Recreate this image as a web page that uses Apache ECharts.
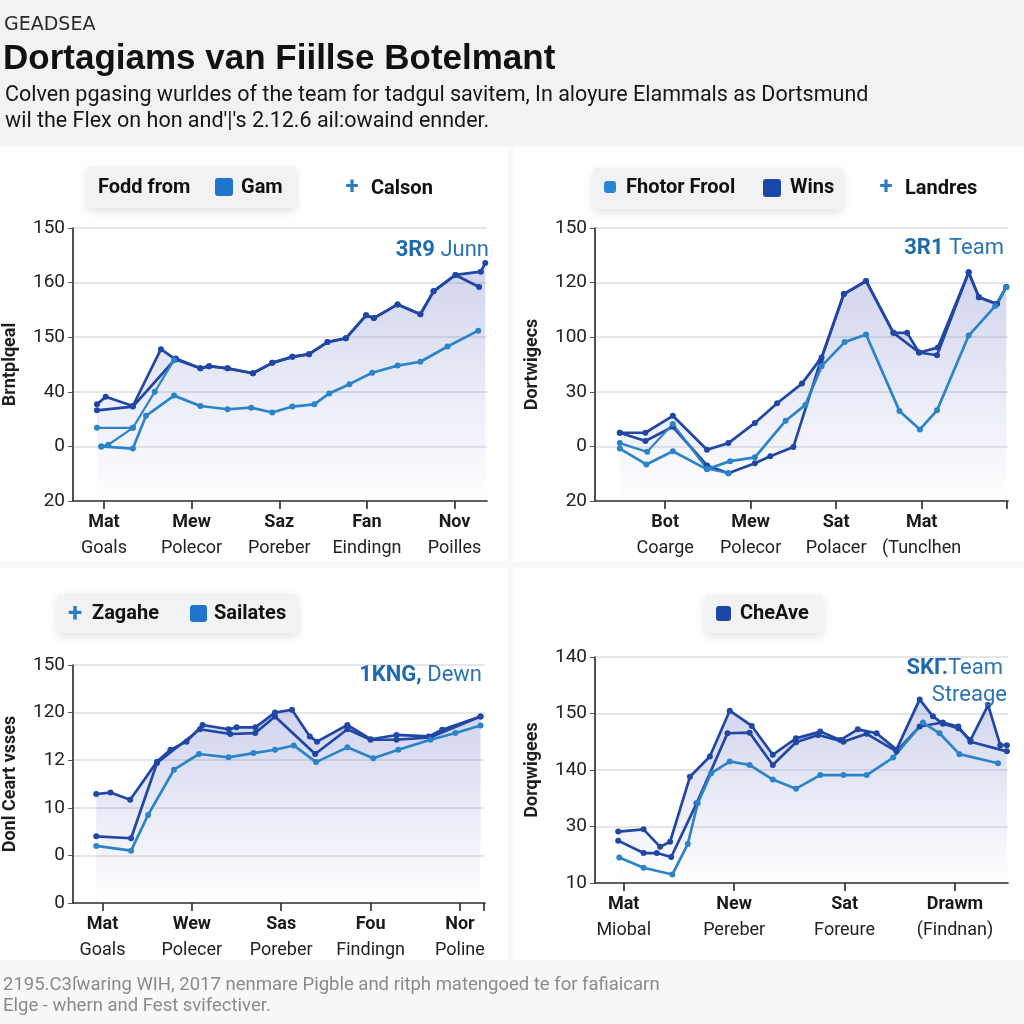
<!DOCTYPE html>
<html><head><meta charset="utf-8">
<script src="https://cdn.jsdelivr.net/npm/echarts@6/dist/echarts.min.js"></script>
<style>html,body{margin:0;padding:0;background:#fafafa}#c{width:1024px;height:1024px}</style>
</head><body><div id="c"></div><script>
// ---------- tick labels ----------
const yTicks1 = ['20','0','40','150','160','150'];
const yTicks2 = ['20','0','30','100','120','150'];
const yTicks3 = ['0','0','10','12','120','150'];
const yTicks4 = ['10','30','140','150','140'];

const xTickPos1 = [1,2,3,4,5];
const xTop1 = ['Mat','Mew','Saz','Fan','Nov'];
const xSub1 = ['Goals','Polecor','Poreber','Eindingn','Poilles'];
const xTickPos2 = [1,2,3,4,5];
const xTop2 = ['Bot','Mew','Sat','Mat',''];
const xSub2 = ['Coarge','Polecor','Polacer','(Tunclhen',''];
const xTickPos3 = [1,2,3,4,5,5.27];
const xTop3 = ['Mat','Wew','Sas','Fou','Nor',''];
const xSub3 = ['Goals','Polecer','Poreber','Findingn','Poline',''];
const xTickPos4 = [1,2,3,4];
const xTop4 = ['Mat','New','Sat','Drawm'];
const xSub4 = ['Miobal','Pereber','Foreure','(Findnan)'];

// ---------- series values (x = position along time axis, y = level on axis) ----------
// Panel 1
const p1GamX = [0.92,1.02,1.33,1.65,1.82,2.10,2.20,2.41,2.70,2.92,3.15,3.34,3.55,3.76,3.99,4.08,4.35,4.61,4.76,5.01,5.30,5.35];
const p1GamY = [1.77,1.91,1.74,2.78,2.59,2.43,2.47,2.43,2.34,2.53,2.64,2.69,2.91,2.98,3.40,3.35,3.60,3.42,3.84,4.14,4.20,4.36];
const p1FoddX = [0.92,1.33,1.82,2.10,2.20,2.41,2.70,2.92,3.15,3.34,3.55,3.76,3.99,4.08,4.35,4.61,4.76,5.01,5.28];
const p1FoddY = [1.66,1.73,2.61,2.43,2.47,2.43,2.34,2.53,2.64,2.69,2.91,2.98,3.40,3.35,3.60,3.42,3.84,4.14,3.92];
const p1CalsonX = [0.97,1.33,1.48,1.80,2.10,2.41,2.68,2.92,3.15,3.40,3.57,3.80,4.06,4.35,4.61,4.92,5.27];
const p1CalsonY = [1.00,0.96,1.56,1.93,1.74,1.68,1.71,1.62,1.73,1.77,1.97,2.14,2.35,2.48,2.55,2.83,3.12];
const p1ExtraX = [0.92,1.33,1.58,1.80];
const p1ExtraY = [1.34,1.34,2.00,2.58];
const p1Extra2X = [0.97,1.05,1.33];
const p1Extra2Y = [1.00,1.03,1.34];
// Panel 2
const p2WinsX = [0.47,0.77,1.09,1.49,1.74,2.05,2.31,2.60,2.83,3.09,3.35,3.67,3.83,3.97,4.19,4.55,4.67,4.88,4.99];
const p2WinsY = [1.25,1.25,1.56,0.94,1.06,1.43,1.79,2.15,2.63,3.79,4.03,3.08,3.08,2.72,2.81,4.19,3.73,3.61,3.92];
const p2LandX = [0.47,0.77,1.09,1.49,1.74,2.05,2.23,2.50,2.82,3.09,3.35,3.67,3.97,4.18,4.55,4.67,4.88,4.99];
const p2LandY = [1.25,1.10,1.36,0.65,0.51,0.69,0.82,0.99,2.57,3.79,4.03,3.08,2.72,2.67,4.19,3.73,3.61,3.92];
const p2FhotX = [0.47,0.78,1.09,1.49,1.76,2.05,2.41,2.64,2.83,3.10,3.35,3.74,3.98,4.18,4.55,4.86,4.99];
const p2FhotY = [0.96,0.67,0.91,0.58,0.73,0.80,1.47,1.76,2.47,2.91,3.05,1.65,1.31,1.66,3.03,3.57,3.92];
const p2ExtraX = [0.47,0.79,1.09,1.49,1.74];
const p2ExtraY = [1.06,0.90,1.41,0.59,0.51];
// Panel 3
const p3SailX = [0.93,1.09,1.31,1.61,1.76,1.94,2.12,2.41,2.50,2.71,2.93,3.12,3.32,3.40,3.74,4.00,4.29,4.65,4.80,5.23];
const p3SailY = [2.29,2.32,2.17,2.97,3.22,3.39,3.74,3.65,3.69,3.69,4.00,4.06,3.50,3.39,3.74,3.44,3.53,3.50,3.64,3.92];
const p3ZagX = [0.93,1.32,1.61,2.09,2.43,2.71,2.93,3.38,3.74,4.00,4.29,4.67,5.23];
const p3ZagY = [1.40,1.36,2.94,3.65,3.55,3.57,3.92,3.13,3.65,3.43,3.43,3.48,3.92];
const p3LowX = [0.93,1.32,1.51,1.80,2.08,2.41,2.69,2.93,3.14,3.39,3.74,4.03,4.31,4.67,4.95,5.23];
const p3LowY = [1.20,1.10,1.85,2.80,3.13,3.06,3.15,3.22,3.31,2.96,3.27,3.04,3.22,3.43,3.57,3.73];
// Panel 4
const p4CheX = [0.95,1.18,1.33,1.42,1.60,1.78,1.96,2.16,2.35,2.56,2.78,2.96,3.12,3.29,3.47,3.68,3.80,3.89,4.03,4.14,4.30,4.41,4.47];
const p4CheY = [0.91,0.95,0.64,0.73,1.88,2.24,3.05,2.78,2.27,2.56,2.68,2.53,2.72,2.65,2.36,3.25,2.95,2.82,2.74,2.53,3.15,2.44,2.44];
const p4SecX = [0.95,1.18,1.30,1.43,1.66,1.94,2.14,2.35,2.56,2.76,2.99,3.20,3.47,3.68,3.89,4.03,4.14,4.47];
const p4SecY = [0.75,0.53,0.53,0.46,1.41,2.65,2.66,2.09,2.49,2.62,2.50,2.64,2.33,2.77,2.84,2.77,2.50,2.33];
const p4LowX = [0.96,1.18,1.44,1.58,1.67,1.79,1.96,2.14,2.35,2.56,2.78,2.99,3.20,3.44,3.71,3.86,4.04,4.39];
const p4LowY = [0.45,0.27,0.15,0.69,1.41,1.94,2.15,2.09,1.83,1.67,1.91,1.91,1.91,2.22,2.84,2.65,2.28,2.12];

// ---------- styles ----------
const DARK = '#2147a5';
const MED = '#2c84c8';
const zip = (xs, ys) => xs.map((x, i) => [x, ys[i]]);
const areaGrad = {type:'linear', x:0, y:0, x2:0, y2:1, colorStops:[
  {offset:0, color:'rgba(70,85,185,0.36)'}, {offset:1, color:'rgba(70,85,185,0.0)'}]};

function line(name, xs, ys, gi, color, area, w) {
  const s = {
    name, type:'line', xAxisIndex:gi, yAxisIndex:gi, data: zip(xs, ys),
    symbol:'circle', symbolSize:6, showSymbol:true,
    lineStyle:{color, width: w || 2.7}, itemStyle:{color},
    z: area ? 2 : 3
  };
  if (area) s.areaStyle = {color: areaGrad, origin:'start'};
  return s;
}

const grids = [
  {left:72, top:228, width:415, height:273},
  {left:595, top:228, width:413, height:273},
  {left:73, top:665, width:412, height:238},
  {left:595, top:657, width:413, height:226}
];
const xRanges = [[0.647,5.37],[0.18,5.01],[0.67,5.28],[0.74,4.48]];
const xPos = [xTickPos1, xTickPos2, xTickPos3, xTickPos4];
const xTops = [xTop1, xTop2, xTop3, xTop4];
const xSubs = [xSub1, xSub2, xSub3, xSub4];
const yTicks = [yTicks1, yTicks2, yTicks3, yTicks4];
const yNames = ['Brntplqeal','Dortwigecs','Donl Ceart vsses','Dorqwigees'];

const xAxis = grids.map((g, i) => ({
  type:'value', gridIndex:i, min:xRanges[i][0], max:xRanges[i][1],
  splitLine:{show:false},
  axisLine:{show:true, lineStyle:{color:'#333', width:1.7}},
  axisTick:{show:true, customValues:xPos[i], length:8, lineStyle:{color:'#333', width:1.7}},
  axisLabel:{
    customValues:xPos[i], margin:8,
    formatter:(v) => { const k = xPos[i].indexOf(v); if (k < 0 || !xTops[i][k]) return ''; return '{t|' + xTops[i][k] + '}\n{s|' + xSubs[i][k] + '}'; },
    rich:{
      t:{fontFamily:'Roboto', fontWeight:'bold', fontSize:18, color:'#1a1a1a', lineHeight:26},
      s:{fontFamily:'Roboto', fontSize:18, color:'#222', lineHeight:26}
    }
  }
}));
const yAxis = grids.map((g, i) => ({
  type:'value', gridIndex:i, min:0, max:yTicks[i].length - 1, interval:1,
  name: yNames[i], nameLocation:'middle', nameGap:54, nameRotate:90,
  nameTextStyle:{fontFamily:'Roboto', fontWeight:'bold', fontSize:18, color:'#1f1f1f'},
  axisLine:{show:true, lineStyle:{color:'#333', width:1.7}},
  axisTick:{show:true, length:5, lineStyle:{color:'#555'}},
  splitLine:{show:true, lineStyle:{color:'#e6e6ea', width:2}},
  axisLabel:{fontFamily:'Roboto', fontSize:19, color:'#222', margin:8,
    formatter:(v) => yTicks[i][Math.round(v)] ?? ''}
}));

const series = [
  line('Gam', p1GamX, p1GamY, 0, DARK, true),
  line('Fodd from', p1FoddX, p1FoddY, 0, DARK, false),
  line('Calson', p1CalsonX, p1CalsonY, 0, MED, false),
  line('Calson b', p1ExtraX, p1ExtraY, 0, MED, false, 2.2),
  line('Calson c', p1Extra2X, p1Extra2Y, 0, MED, false, 2.2),
  line('Wins', p2WinsX, p2WinsY, 1, DARK, true),
  line('Landres', p2LandX, p2LandY, 1, DARK, false),
  line('Fhotor Frool', p2FhotX, p2FhotY, 1, MED, false),
  line('Fhotor Frool b', p2ExtraX, p2ExtraY, 1, MED, false, 2.2),
  line('Sailates', p3SailX, p3SailY, 2, DARK, true),
  line('Zagahe', p3ZagX, p3ZagY, 2, DARK, false),
  line('Zagahe b', p3LowX, p3LowY, 2, MED, false),
  line('CheAve', p4CheX, p4CheY, 3, DARK, true),
  line('CheAve b', p4SecX, p4SecY, 3, DARK, false),
  line('CheAve c', p4LowX, p4LowY, 3, MED, false)
];

// ---------- decorations ----------
const T = (text, x, y, font, fill, align, extra) => Object.assign({type:'text', z:10, style:Object.assign({text, x, y, font, fill, textAlign: align || 'left', textVerticalAlign:'middle'}, extra || {})});
const R = (x, y, w, h, fill, extra) => Object.assign({type:'rect', shape:{x, y, width:w, height:h, r:(extra && extra.r) || 0}, style:Object.assign({fill}, (extra && extra.style) || {}), z:(extra && extra.z) || -100, silent:true});
const pill = (x, y, w, h) => R(x, y, w, h, '#f2f2f4', {r:4, z:5, style:{shadowBlur:10, shadowColor:'rgba(0,0,0,0.13)', shadowOffsetY:3}});
const sq = (x, y, s, c) => ({type:'rect', z:11, shape:{x, y, width:s, height:s, r:3}, style:{fill:c}});
const LF = 'bold 20px Roboto';
const ANN = (pre, post, x, y) => ({type:'text', z:10, style:{
  text:'{b|' + pre + '}' + post, x, y, textAlign:'right', textVerticalAlign:'middle',
  fill:'#2a74b5', font:'22px Roboto',
  rich:{b:{fontWeight:'bold', fontSize:22, fontFamily:'Roboto', fill:'#1f6aae'}}}});

const graphic = [
  R(0, 0, 1024, 1024, '#f8f8f8'),
  R(0, 0, 1024, 145, '#f2f2f4'),
  R(0, 147, 508, 414, '#ffffff'),
  R(513, 147, 511, 414, '#ffffff'),
  R(0, 568, 508, 392, '#ffffff'),
  R(513, 568, 511, 392, '#ffffff'),
  T('GEADSEA', 4, 25, '19px "DejaVu Sans"', '#2a2a2a'),
  T('Dortagiams van Fiillse Botelmant', 3, 59, 'bold 35px "Liberation Sans"', '#111'),
  T('Colven pgasing wurldes of the team for tadgul savitem, In aloyure Elammals as Dortsmund', 5, 96, '21.5px Roboto', '#151515'),
  T("wil the Flex on hon and'|'s 2.12.6 ail:owaind ennder.", 5, 122, '21.5px Roboto', '#151515'),
  // panel 1 legend
  pill(87, 167, 209, 41),
  T('Fodd from', 98, 188, LF, '#111'),
  sq(215, 178, 18, '#1f74cc'),
  T('Gam', 241, 188, LF, '#111'),
  T('+', 352, 188, 'bold 24px Roboto', '#2a7cc4', 'center'),
  T('Calson', 371, 189, LF, '#111'),
  // panel 2 legend
  pill(593, 168, 250, 41),
  sq(604, 181, 12, '#2a86d0'),
  T('Fhotor Frool', 626, 188, LF, '#111'),
  sq(763, 179, 18, '#1a47a8'),
  T('Wins', 790, 188, LF, '#111'),
  T('+', 886, 188, 'bold 24px Roboto', '#2a7cc4', 'center'),
  T('Landres', 905, 189, LF, '#111'),
  // panel 3 legend
  pill(58, 594, 240, 39),
  T('+', 75, 614, 'bold 26px Roboto', '#2a7cc4', 'center'),
  T('Zagahe', 92, 614, LF, '#111'),
  sq(190, 605, 17, '#1f74cc'),
  T('Sailates', 214, 614, LF, '#111'),
  // panel 4 legend
  pill(705, 595, 118, 38),
  sq(716, 606, 15, '#1a47a8'),
  T('CheAve', 740, 614, LF, '#111'),
  // annotations
  ANN('3R9', ' Junn', 489, 250),
  ANN('3R1', ' Team', 1004, 248),
  ANN('1KNG,', ' Dewn', 482, 675),
  ANN('SK\u0413.', 'Team', 1003, 668),
  T('Streage', 1007, 695, '22px Roboto', '#2a74b5', 'right'),
  // footer
  T('2195.C3\u017fwaring WIH, 2017 nenmare Pigble and ritph matengoed te for fafiaicarn', 3, 985, '18.5px Roboto', '#8a8a8a'),
  T('Elge - whern and Fest svifectiver.', 3, 1006, '18.5px Roboto', '#8a8a8a')
];

const chart = echarts.init(document.getElementById('c'), null, {renderer:'canvas'});
chart.setOption({
  animation:false,
  backgroundColor:'transparent',
  grid: grids,
  xAxis, yAxis, series, graphic
});
</script></body></html>
